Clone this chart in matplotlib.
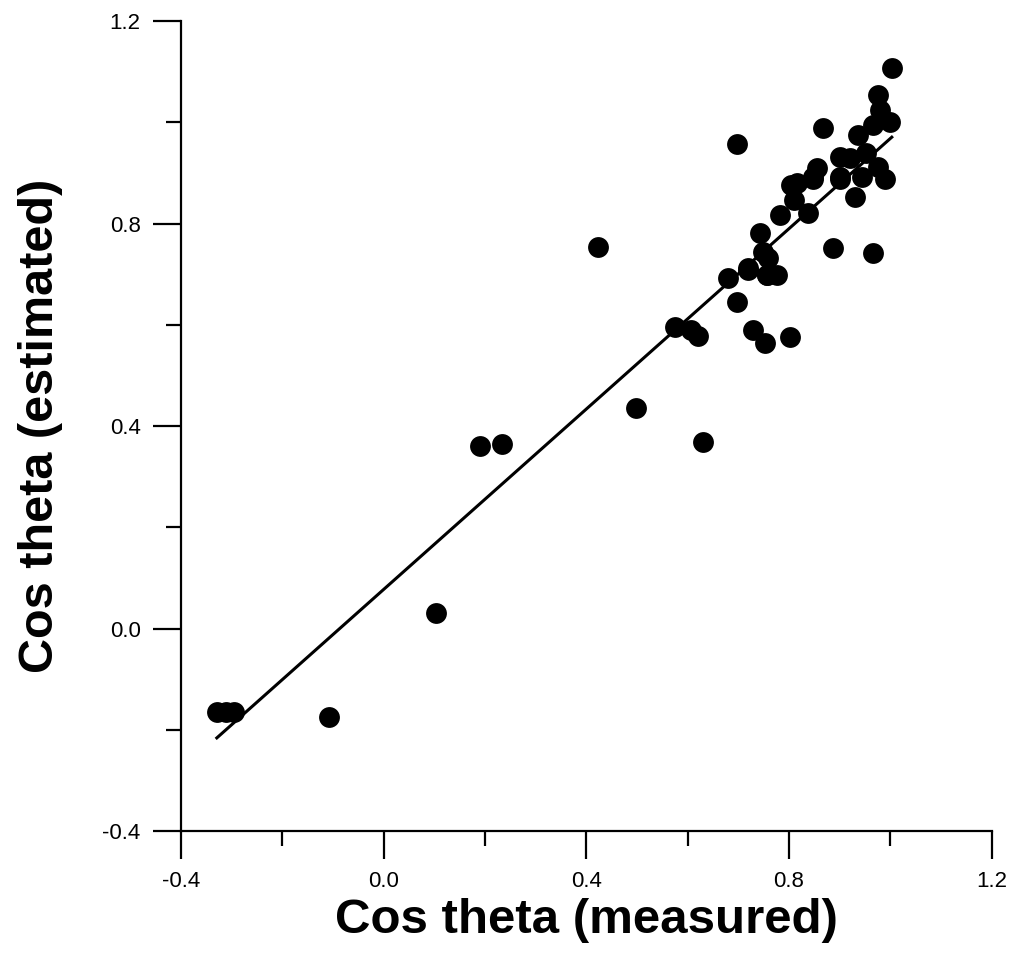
import numpy as np
import matplotlib.pyplot as plt
from matplotlib.ticker import MultipleLocator

# cos theta measured vs estimated
measured = [-0.329, -0.311, -0.295, -0.108, 0.103, 0.190, 0.233, 0.423,
            0.498, 0.630, 0.575, 0.607, 0.620, 0.679, 0.697, 0.697,
            0.719, 0.719, 0.729, 0.752, 0.756, 0.802, 0.742, 0.749,
            0.758, 0.776, 0.756, 0.782, 0.811, 0.837, 0.805, 0.848,
            0.815, 0.847, 0.887, 0.965, 0.900, 0.930, 0.900, 0.945,
            0.989, 0.976, 0.953, 0.900, 0.936, 0.867, 0.965, 0.999,
            0.979, 0.976, 1.003, 0.920, 0.855]
estimated = [-0.165, -0.165, -0.165, -0.175, 0.031, 0.361, 0.365, 0.754,
             0.436, 0.368, 0.596, 0.589, 0.578, 0.692, 0.958, 0.645,
             0.712, 0.708, 0.590, 0.564, 0.698, 0.576, 0.781, 0.744,
             0.732, 0.698, 0.698, 0.817, 0.846, 0.821, 0.876, 0.889,
             0.880, 0.892, 0.752, 0.741, 0.932, 0.853, 0.892, 0.892,
             0.889, 0.912, 0.939, 0.889, 0.975, 0.988, 0.995, 1.001,
             1.024, 1.054, 1.107, 0.930, 0.910]

# regression line
slope = 0.891
intercept = 0.077

plt.rcParams['font.family'] = ['Liberation Sans', 'DejaVu Sans']

fig = plt.figure(figsize=(10.16, 9.59), dpi=100)
ax = fig.add_axes([0.178, 0.1335, 0.798, 0.8445])

ax.plot(measured, estimated, 'o', color='black', markersize=15, markeredgewidth=0)
xs = np.array([min(measured), max(measured)])
ax.plot(xs, intercept + slope * xs, color='black', linewidth=2.2)

ax.set_xlim(-0.4, 1.2)
ax.set_ylim(-0.4, 1.2)
for a in (ax.xaxis, ax.yaxis):
    a.set_major_locator(MultipleLocator(0.4))
    a.set_minor_locator(MultipleLocator(0.2))
ax.xaxis.set_major_formatter(plt.FormatStrFormatter('%.1f'))
ax.yaxis.set_major_formatter(plt.FormatStrFormatter('%.1f'))
ax.tick_params(which='major', direction='out', length=20, width=1.6, labelsize=16, pad=9)
ax.tick_params(which='minor', direction='out', length=11, width=1.6)
ax.spines['top'].set_visible(False)
ax.spines['right'].set_visible(False)
ax.spines['left'].set_linewidth(1.6)
ax.spines['bottom'].set_linewidth(1.6)

ax.set_xlabel('Cos theta (measured)', fontsize=35.5, fontweight='bold', labelpad=4)
ax.set_ylabel('Cos theta (estimated)', fontsize=35, fontweight='bold', labelpad=28)

fig.savefig('out.png', dpi=100)
